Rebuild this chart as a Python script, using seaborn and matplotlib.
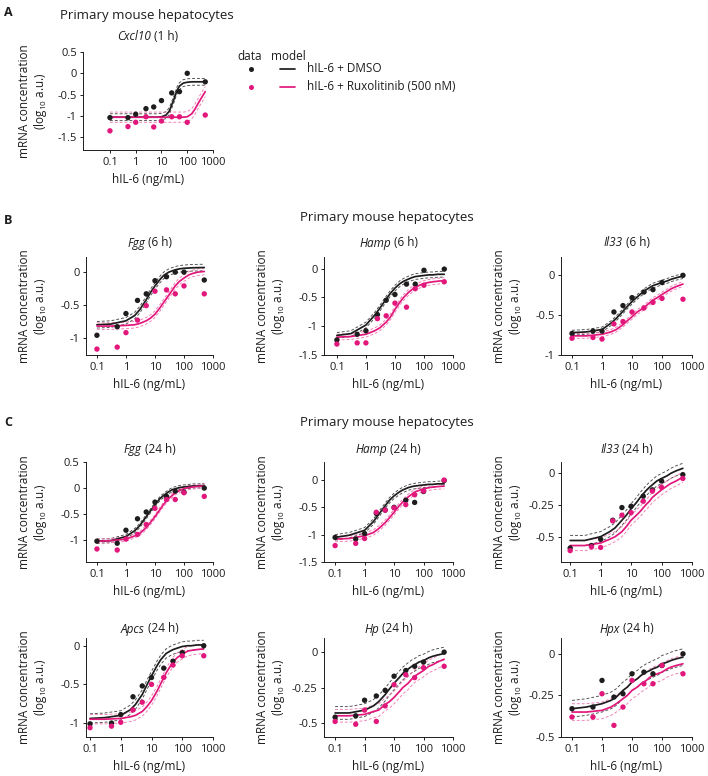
import numpy as np
import pandas as pd
import matplotlib
matplotlib.use("Agg")
import matplotlib.pyplot as plt
from matplotlib.lines import Line2D
import seaborn as sns

# ------------------------------------------------------------------ data
DOSE = [0.1, 0.5, 1, 2.5, 5, 10, 25, 50, 100, 500]
MODEL_DOSE = [0.1, 0.3, 1, 2, 3, 5, 7, 10, 15, 20, 30, 40, 50, 70, 100, 150, 200, 300, 500]
CONDITIONS = ["hIL-6 + DMSO", "hIL-6 + Ruxolitinib (500 nM)"]
X_TICKS = [0.1, 1, 10, 100, 1000]
X_TICK_LABELS = ["0.1", "1", "10", "100", "1000"]

# Cxcl10 (1 h)
cxcl10_1h_dmso = [-1.04, -1.04, -0.96, -0.83, -0.79, -0.64, -0.46, -0.43, 0.0, -0.20]
cxcl10_1h_ruxo = [-1.35, -1.25, -1.15, -1.02, -1.26, -1.12, -1.02, -1.02, -1.15, -0.98]
cxcl10_1h_dmso_model = [-1.03, -1.03, -1.03, -1.03, -1.03, -1.03, -1.03, -1.02, -0.98, -0.89,
                        -0.62, -0.40, -0.30, -0.23, -0.21, -0.20, -0.20, -0.20, -0.20]
cxcl10_1h_ruxo_model = [-1.03, -1.03, -1.03, -1.03, -1.03, -1.03, -1.03, -1.03, -1.03, -1.03,
                        -1.03, -1.03, -1.03, -1.03, -1.02, -0.95, -0.84, -0.65, -0.43]
cxcl10_1h_band = [0.08, 0.12]

# Fgg (6 h)
fgg_6h_dmso = [-0.96, -0.83, -0.63, -0.43, -0.33, -0.13, -0.07, 0.0, 0.0, -0.12]
fgg_6h_ruxo = [-1.17, -1.14, -0.92, -0.73, -0.51, -0.29, -0.27, -0.33, -0.21, -0.33]
fgg_6h_dmso_model = [-0.80, -0.79, -0.74, -0.66, -0.57, -0.42, -0.31, -0.21, -0.11, -0.05,
                     0.00, 0.02, 0.035, 0.05, 0.058, 0.063, 0.066, 0.068, 0.07]
fgg_6h_ruxo_model = [-0.82, -0.82, -0.81, -0.80, -0.78, -0.74, -0.70, -0.64, -0.54, -0.46,
                     -0.35, -0.27, -0.21, -0.14, -0.09, -0.04, -0.02, 0.00, 0.01]
fgg_6h_band = [0.05, 0.05]

# Hamp (6 h)
hamp_6h_dmso = [-1.24, -1.14, -1.08, -0.80, -0.55, -0.45, -0.27, -0.27, -0.03, -0.01]
hamp_6h_ruxo = [-1.31, -1.29, -1.29, -0.87, -0.82, -0.60, -0.67, -0.35, -0.29, -0.23]
hamp_6h_dmso_model = [-1.16, -1.13, -0.98, -0.81, -0.69, -0.53, -0.43, -0.34, -0.26, -0.22,
                      -0.18, -0.155, -0.14, -0.13, -0.12, -0.11, -0.11, -0.10, -0.10]
hamp_6h_ruxo_model = [-1.19, -1.18, -1.14, -1.08, -1.03, -0.93, -0.84, -0.71, -0.58, -0.50,
                      -0.41, -0.36, -0.33, -0.29, -0.26, -0.24, -0.23, -0.22, -0.21]
hamp_6h_band = [0.05, 0.05]

# Il33 (6 h)
il33_6h_dmso = [-0.73, -0.70, -0.70, -0.46, -0.38, -0.28, -0.21, -0.18, -0.09, 0.0]
il33_6h_ruxo = [-0.79, -0.78, -0.80, -0.61, -0.58, -0.46, -0.41, -0.34, -0.29, -0.30]
il33_6h_dmso_model = [-0.72, -0.71, -0.68, -0.60, -0.54, -0.45, -0.39, -0.33, -0.27, -0.23,
                      -0.18, -0.15, -0.13, -0.11, -0.09, -0.07, -0.05, -0.03, -0.01]
il33_6h_ruxo_model = [-0.76, -0.76, -0.74, -0.71, -0.68, -0.62, -0.57, -0.52, -0.46, -0.43,
                      -0.38, -0.34, -0.31, -0.28, -0.24, -0.20, -0.17, -0.14, -0.11]
il33_6h_band = [0.03, 0.03]

# Fgg (24 h)
fgg_24h_dmso = [-1.02, -1.06, -0.81, -0.59, -0.46, -0.27, -0.16, -0.06, -0.08, 0.0]
fgg_24h_ruxo = [-1.17, -1.19, -0.98, -0.89, -0.70, -0.39, -0.22, -0.22, -0.09, -0.16]
fgg_24h_dmso_model = [-1.02, -1.01, -0.93, -0.82, -0.72, -0.55, -0.44, -0.32, -0.20, -0.14,
                      -0.07, -0.03, -0.015, 0.01, 0.02, 0.03, 0.04, 0.04, 0.05]
fgg_24h_ruxo_model = [-1.02, -1.01, -0.98, -0.92, -0.87, -0.76, -0.66, -0.55, -0.41, -0.31,
                      -0.20, -0.14, -0.09, -0.05, -0.01, 0.01, 0.02, 0.03, 0.04]
fgg_24h_band = [0.04, 0.04]

# Hamp (24 h)
hamp_24h_dmso = [-1.05, -1.08, -0.98, -0.61, -0.55, -0.50, -0.37, -0.41, -0.21, -0.01]
hamp_24h_ruxo = [-1.20, -1.16, -1.07, -0.59, -0.55, -0.51, -0.45, -0.27, -0.20, 0.0]
hamp_24h_dmso_model = [-1.05, -1.01, -0.92, -0.76, -0.63, -0.47, -0.37, -0.29, -0.22, -0.18,
                       -0.14, -0.12, -0.11, -0.10, -0.09, -0.08, -0.08, -0.07, -0.07]
hamp_24h_ruxo_model = [-1.08, -1.07, -1.02, -0.96, -0.89, -0.78, -0.69, -0.59, -0.47, -0.40,
                       -0.31, -0.26, -0.22, -0.19, -0.16, -0.14, -0.13, -0.12, -0.11]
hamp_24h_band = [0.05, 0.05]

# Il33 (24 h)
il33_24h_dmso = [-0.59, -0.57, -0.52, -0.37, -0.27, -0.26, -0.18, -0.13, -0.06, -0.01]
il33_24h_ruxo = [-0.61, -0.58, -0.585, -0.375, -0.33, -0.31, -0.22, -0.14, -0.11, -0.04]
il33_24h_dmso_model = [-0.53, -0.53, -0.50, -0.46, -0.43, -0.37, -0.33, -0.28, -0.23, -0.19,
                       -0.14, -0.11, -0.09, -0.06, -0.04, -0.02, 0.0, 0.02, 0.04]
il33_24h_ruxo_model = [-0.57, -0.57, -0.55, -0.52, -0.50, -0.46, -0.42, -0.37, -0.33, -0.30,
                       -0.25, -0.22, -0.19, -0.16, -0.13, -0.10, -0.08, -0.06, -0.03]
il33_24h_band = [0.04, 0.04]

# Apcs (24 h)
apcs_24h_dmso = [-1.01, -1.00, -0.89, -0.66, -0.52, -0.41, -0.29, -0.20, -0.09, 0.0]
apcs_24h_ruxo = [-1.06, -1.04, -0.99, -0.83, -0.73, -0.50, -0.41, -0.25, -0.13, -0.13]
apcs_24h_dmso_model = [-0.94, -0.93, -0.90, -0.83, -0.76, -0.63, -0.51, -0.39, -0.26, -0.18,
                       -0.10, -0.07, -0.05, -0.03, -0.01, 0.0, 0.0, 0.01, 0.01]
apcs_24h_ruxo_model = [-0.95, -0.95, -0.94, -0.92, -0.90, -0.85, -0.79, -0.71, -0.59, -0.49,
                       -0.35, -0.27, -0.21, -0.15, -0.11, -0.07, -0.06, -0.05, -0.04]
apcs_24h_band = [0.06, 0.06]

# Hp (24 h)
hp_24h_dmso = [-0.46, -0.45, -0.34, -0.31, -0.27, -0.17, -0.13, -0.10, -0.07, 0.0]
hp_24h_ruxo = [-0.49, -0.51, -0.41, -0.49, -0.38, -0.23, -0.16, -0.18, -0.11, -0.10]
hp_24h_dmso_model = [-0.43, -0.43, -0.41, -0.38, -0.35, -0.30, -0.26, -0.22, -0.18, -0.15,
                     -0.12, -0.10, -0.09, -0.07, -0.06, -0.04, -0.03, -0.02, -0.01]
hp_24h_ruxo_model = [-0.45, -0.45, -0.44, -0.42, -0.41, -0.37, -0.35, -0.32, -0.28, -0.25,
                     -0.22, -0.19, -0.17, -0.15, -0.13, -0.10, -0.09, -0.07, -0.05]
hp_24h_band = [0.045, 0.045]

# Hpx (24 h)
hpx_24h_dmso = [-0.33, -0.32, -0.16, -0.26, -0.24, -0.12, -0.11, -0.12, -0.07, 0.0]
hpx_24h_ruxo = [-0.38, -0.38, -0.24, -0.43, -0.32, -0.16, -0.18, -0.18, -0.07, -0.12]
hpx_24h_dmso_model = [-0.33, -0.32, -0.30, -0.28, -0.26, -0.22, -0.20, -0.17, -0.15, -0.13,
                      -0.11, -0.10, -0.09, -0.08, -0.06, -0.05, -0.04, -0.03, -0.02]
hpx_24h_ruxo_model = [-0.35, -0.35, -0.34, -0.32, -0.30, -0.27, -0.25, -0.22, -0.20, -0.18,
                      -0.16, -0.14, -0.13, -0.12, -0.11, -0.09, -0.08, -0.07, -0.06]
hpx_24h_band = [0.05, 0.05]

GENES = ["Cxcl10", "Fgg", "Hamp", "Il33", "Fgg", "Hamp", "Il33", "Apcs", "Hp", "Hpx"]
TIMES = ["1 h", "6 h", "6 h", "6 h", "24 h", "24 h", "24 h", "24 h", "24 h", "24 h"]
DATA = [
    (cxcl10_1h_dmso, cxcl10_1h_ruxo, cxcl10_1h_dmso_model, cxcl10_1h_ruxo_model, cxcl10_1h_band),
    (fgg_6h_dmso, fgg_6h_ruxo, fgg_6h_dmso_model, fgg_6h_ruxo_model, fgg_6h_band),
    (hamp_6h_dmso, hamp_6h_ruxo, hamp_6h_dmso_model, hamp_6h_ruxo_model, hamp_6h_band),
    (il33_6h_dmso, il33_6h_ruxo, il33_6h_dmso_model, il33_6h_ruxo_model, il33_6h_band),
    (fgg_24h_dmso, fgg_24h_ruxo, fgg_24h_dmso_model, fgg_24h_ruxo_model, fgg_24h_band),
    (hamp_24h_dmso, hamp_24h_ruxo, hamp_24h_dmso_model, hamp_24h_ruxo_model, hamp_24h_band),
    (il33_24h_dmso, il33_24h_ruxo, il33_24h_dmso_model, il33_24h_ruxo_model, il33_24h_band),
    (apcs_24h_dmso, apcs_24h_ruxo, apcs_24h_dmso_model, apcs_24h_ruxo_model, apcs_24h_band),
    (hp_24h_dmso, hp_24h_ruxo, hp_24h_dmso_model, hp_24h_ruxo_model, hp_24h_band),
    (hpx_24h_dmso, hpx_24h_ruxo, hpx_24h_dmso_model, hpx_24h_ruxo_model, hpx_24h_band),
]
Y_TICKS = [
    [0.5, 0, -0.5, -1, -1.5],
    [0, -0.5, -1],
    [0, -0.5, -1, -1.5],
    [0, -0.5, -1],
    [0.5, 0, -0.5, -1],
    [0, -0.5, -1, -1.5],
    [0, -0.25, -0.5],
    [0, -0.5, -1],
    [0, -0.25, -0.5],
    [0, -0.25, -0.5],
]

# ------------------------------------------------------------------ layout (pixels)
W, H = 708, 776
BOXES = [  # left, top, right, bottom
    (83, 52, 213, 150),
    (86, 257, 213, 355), (324, 257, 453, 355), (561, 257, 692, 355),
    (86, 462, 213, 562), (324, 462, 453, 562), (561, 462, 692, 562),
    (86, 638, 213, 737), (324, 638, 453, 737), (561, 638, 692, 737),
]
YLIMS = [(-1.8, 0.5), (-1.26, 0.23), (-1.5, 0.2), (-1.0, 0.23),
         (-1.42, 0.5), (-1.5, 0.33), (-0.70, 0.09),
         (-1.18, 0.10), (-0.60, 0.10), (-0.50, 0.095)]
XMINS = [0.009, 0.042, 0.036, 0.043, 0.042, 0.042, 0.05, 0.074, 0.042, 0.043]
TITLE_Y = [36, 243, 243, 243, 449, 449, 449, 629, 629, 629]
YLABEL_OFFSET = [34, 37, 37, 37, 37, 37, 37, 37, 37, 37]

BLACK = "#1e1c1d"
PINK = "#e2177c"
BLACK_BAND = "#4a4a4a"
PINK_BAND = "#ee7ab2"
FONT = "Open Sans"

sns.set_theme(style="ticks")
plt.rcParams.update({
    "font.family": [FONT, "DejaVu Sans"],
    "mathtext.fontset": "custom",
    "mathtext.rm": FONT,
    "mathtext.it": FONT + ":italic",
    "mathtext.default": "rm",
    "axes.unicode_minus": False,
    "axes.edgecolor": BLACK,
    "axes.linewidth": 0.7,
    "xtick.color": BLACK,
    "ytick.color": BLACK,
    "xtick.major.size": 2.5,
    "ytick.major.size": 2.5,
    "xtick.major.width": 0.7,
    "ytick.major.width": 0.7,
    "xtick.major.pad": 2.5,
    "ytick.major.pad": 2,
    "xtick.labelsize": 8,
    "ytick.labelsize": 8,
    "axes.labelsize": 8.5,
    "text.color": BLACK,
    "axes.labelcolor": BLACK,
    "lines.dashed_pattern": (3.2, 2.2),
})

fig = plt.figure(figsize=(W / 100, H / 100), dpi=100)
fig.patch.set_facecolor("white")
renderer = fig.canvas.get_renderer()


def fx(px):
    return px / W


def fy(py):
    return 1 - py / H


def centered_title(xc, yc, gene, rest, size=8.5, gap=3.0):
    """Italic gene name followed by upright time, centred as one line."""
    t1 = fig.text(0, fy(yc), gene, fontstyle="italic", fontsize=size, ha="left", va="center")
    t2 = fig.text(0, fy(yc), rest, fontsize=size, ha="left", va="center")
    w1 = t1.get_window_extent(renderer).width
    w2 = t2.get_window_extent(renderer).width
    x0 = xc - (w1 + gap + w2) / 2
    t1.set_x(fx(x0))
    t2.set_x(fx(x0 + w1 + gap))


def draw_panel(i):
    l, t, r, b = BOXES[i]
    ax = fig.add_axes([fx(l), fy(b), fx(r - l), (b - t) / H])
    dmso, ruxo, dmso_m, ruxo_m, band = DATA[i]

    pts = pd.DataFrame({
        "dose": DOSE * 2,
        "value": dmso + ruxo,
        "condition": [CONDITIONS[0]] * len(DOSE) + [CONDITIONS[1]] * len(DOSE),
    })
    for model, bw, bcol in [(dmso_m, band[0], BLACK_BAND), (ruxo_m, band[1], PINK_BAND)]:
        m = pd.DataFrame({"dose": MODEL_DOSE, "value": model})
        m["lower"] = m["value"] - bw
        m["upper"] = m["value"] + bw
        for key in ("lower", "upper"):
            sns.lineplot(data=m, x="dose", y=key, ax=ax, color=bcol, linewidth=0.65,
                         linestyle="--", estimator=None, errorbar=None, legend=False, zorder=2)
    for model, col in [(dmso_m, BLACK), (ruxo_m, PINK)]:
        m = pd.DataFrame({"dose": MODEL_DOSE, "value": model})
        sns.lineplot(data=m, x="dose", y="value", ax=ax, color=col, linewidth=1.25,
                     estimator=None, errorbar=None, legend=False, zorder=3)
    sns.scatterplot(data=pts, x="dose", y="value", hue="condition",
                    palette={CONDITIONS[0]: BLACK, CONDITIONS[1]: PINK},
                    s=15, linewidth=0, legend=False, ax=ax, zorder=4)

    ax.set_xscale("log")
    ax.set_xlim(XMINS[i], 1000)
    ax.set_ylim(*YLIMS[i])
    ax.set_xticks(X_TICKS)
    ax.set_xticklabels(X_TICK_LABELS)
    ax.xaxis.set_minor_locator(matplotlib.ticker.NullLocator())
    ax.set_yticks(Y_TICKS[i])
    ax.set_yticklabels([f"{v:g}" for v in Y_TICKS[i]])
    sns.despine(ax=ax)
    ax.set_xlabel("hIL-6 (ng/mL)", labelpad=3.5)
    ax.set_ylabel("mRNA concentration\n(log$_{10}$ a.u.)", linespacing=1.1)
    ax.yaxis.set_label_coords(-YLABEL_OFFSET[i] / (r - l), 0.5)
    centered_title((l + r) / 2, TITLE_Y[i], GENES[i], "(" + TIMES[i] + ")")
    return ax


for i in range(len(BOXES)):
    draw_panel(i)

# section headings and letters
for (x, y) in [(147, 15), (387, 218), (387, 423)]:
    fig.text(fx(x), fy(y), "Primary mouse hepatocytes", ha="center", va="center", fontsize=9.5)
for (x, y, s) in [(8, 13, "A"), (8, 220, "B"), (8, 423, "C")]:
    fig.text(fx(x), fy(y), s, ha="center", va="center", fontsize=9, fontweight="bold")

# legend for panel A
fig.text(fx(250), fy(57), "data", ha="center", va="center", fontsize=8.5)
fig.text(fx(288), fy(56), "model", ha="center", va="center", fontsize=8.5)
for y, col, lab in [(69, BLACK, CONDITIONS[0]), (87, PINK, CONDITIONS[1])]:
    fig.add_artist(Line2D([fx(251)], [fy(y)], marker="o", markersize=3.6,
                          markerfacecolor=col, markeredgewidth=0, linestyle="none"))
    fig.add_artist(Line2D([fx(280), fx(295)], [fy(y), fy(y)], color=col, linewidth=1.25))
    fig.text(fx(307), fy(y), lab, ha="left", va="center", fontsize=8.5)

fig.savefig("out.png", dpi=100, facecolor="white")
